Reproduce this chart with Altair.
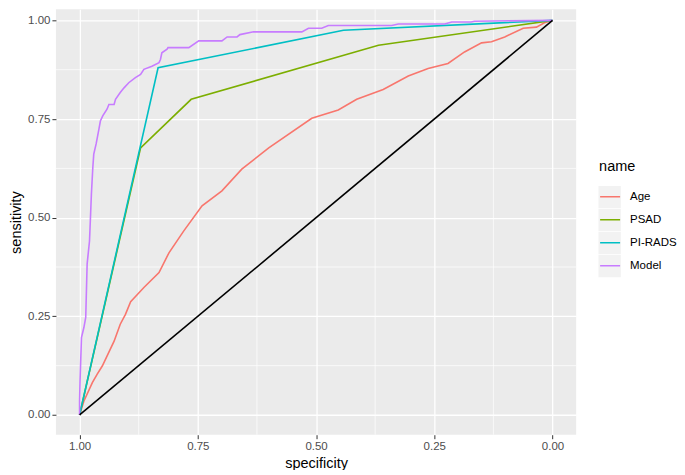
import altair as alt
import pandas as pd

names = ["Age", "PSAD", "PI-RADS", "Model"]
colors = ["#F8766D", "#7CAE00", "#00BFC4", "#C77CFF"]
key_ids = [1, 2, 3, 4]
key_fill = ["#F2F2F2", "#F2F2F2", "#F2F2F2", "#F2F2F2"]

age_spec = [1.0, 0.991, 0.973, 0.963, 0.952, 0.942, 0.927, 0.914, 0.903, 0.892, 0.864,
            0.832, 0.811, 0.780, 0.741, 0.699, 0.657, 0.600, 0.509, 0.453, 0.414, 0.358,
            0.305, 0.263, 0.221, 0.186, 0.150, 0.129, 0.101, 0.062, 0.034, 0.017, 0.0]
age_sens = [0.0, 0.035, 0.082, 0.103, 0.124, 0.149, 0.187, 0.230, 0.255, 0.287, 0.323,
            0.361, 0.411, 0.466, 0.530, 0.568, 0.623, 0.677, 0.752, 0.773, 0.800, 0.825,
            0.859, 0.878, 0.891, 0.920, 0.943, 0.946, 0.958, 0.980, 0.983, 0.994, 1.0]

psad_spec = [1.0, 0.871, 0.764, 0.368, 0.0]
psad_sens = [0.0, 0.677, 0.800, 0.937, 1.0]

pirads_spec = [1.0, 0.834, 0.442, 0.0]
pirads_sens = [0.0, 0.880, 0.975, 1.0]

model_spec = [1.0, 1.0, 0.999, 0.996, 0.991, 0.987, 0.984, 0.979, 0.977, 0.975, 0.972,
              0.970, 0.965, 0.959, 0.956, 0.951, 0.942, 0.938, 0.927, 0.924, 0.914, 0.906,
              0.896, 0.882, 0.871, 0.864, 0.847, 0.832, 0.829, 0.826, 0.815, 0.813, 0.769,
              0.748, 0.699, 0.688, 0.667, 0.661, 0.632, 0.530, 0.516, 0.488, 0.474, 0.340,
              0.326, 0.228, 0.213, 0.172, 0.165, 0.0]
model_sens = [0.0, 0.035, 0.086, 0.196, 0.221, 0.247, 0.383, 0.441, 0.500, 0.560, 0.627,
              0.661, 0.687, 0.725, 0.745, 0.758, 0.775, 0.787, 0.787, 0.800, 0.817, 0.829,
              0.842, 0.855, 0.863, 0.876, 0.884, 0.893, 0.901, 0.918, 0.927, 0.931, 0.931,
              0.948, 0.948, 0.958, 0.958, 0.964, 0.971, 0.971, 0.980, 0.980, 0.987, 0.987,
              0.991, 0.991, 0.996, 0.996, 0.998, 1.0]

diag_spec = [1.0, 0.0]
diag_sens = [0.0, 1.0]

major_ticks = [0.0, 0.25, 0.5, 0.75, 1.0]
minor_ticks = [0.125, 0.375, 0.625, 0.875]

rows = []
for nm, sp, se in [("Age", age_spec, age_sens), ("PSAD", psad_spec, psad_sens),
                   ("PI-RADS", pirads_spec, pirads_sens), ("Model", model_spec, model_sens)]:
    for i, (a, b) in enumerate(zip(sp, se)):
        rows.append({"name": nm, "specificity": a, "sensitivity": b, "idx": i})
df = pd.DataFrame(rows)
diag = pd.DataFrame({"specificity": diag_spec, "sensitivity": diag_sens})
minor = pd.DataFrame({"v": minor_ticks})
keys = pd.DataFrame({"key": key_ids})

FONT = "Liberation Sans"
xscale = alt.Scale(domain=[-0.05, 1.05], reverse=True, nice=False, zero=False)
yscale = alt.Scale(domain=[-0.05, 1.028], nice=False, zero=False)

xaxis = alt.Axis(values=major_ticks, format=".2f", title="specificity", grid=True,
                 gridColor="white", gridWidth=1.3, domain=False, tickColor="#333333",
                 tickSize=4, tickWidth=1, labelColor="#4D4D4D", labelFontSize=11.5,
                 labelFont=FONT, titleFont=FONT, titleFontSize=14.5, titleColor="black",
                 titleFontWeight="normal", labelPadding=2, titlePadding=4)
yaxis = alt.Axis(values=major_ticks, format=".2f", title="sensitivity", grid=True,
                 gridColor="white", gridWidth=1.3, domain=False, tickColor="#333333",
                 tickSize=4, tickWidth=1, labelColor="#4D4D4D", labelFontSize=11.5,
                 labelFont=FONT, titleFont=FONT, titleFontSize=14.5, titleColor="black",
                 titleFontWeight="normal", labelPadding=2, titlePadding=4)

LX, LY = 544, 151
ROW = 22.5

vminor = alt.Chart(minor).mark_rule(color="white", strokeWidth=0.7).encode(
    x=alt.X("v:Q", scale=xscale, axis=xaxis))
hminor = alt.Chart(minor).mark_rule(color="white", strokeWidth=0.7).encode(
    y=alt.Y("v:Q", scale=yscale, axis=yaxis))

# legend key backgrounds (grey squares), no marks drawn in the plot
keybg = alt.Chart(keys).mark_square().encode(
    fill=alt.Fill("key:O", scale=alt.Scale(domain=key_ids, range=key_fill),
                  legend=alt.Legend(title=None, orient="none", legendX=LX - 1, legendY=LY + 26,
                                    symbolType="square", symbolSize=ROW * ROW,
                                    symbolStrokeWidth=0, symbolOpacity=1, rowPadding=0,
                                    clipHeight=ROW, labelExpr="''", labelFontSize=1,
                                    labelOffset=0, zindex=0)),
).transform_filter("false")

lines = alt.Chart(df).mark_line(strokeWidth=1.6).encode(
    x=alt.X("specificity:Q", scale=xscale, axis=xaxis),
    y=alt.Y("sensitivity:Q", scale=yscale, axis=yaxis),
    color=alt.Color("name:N", scale=alt.Scale(domain=names, range=colors),
                    legend=alt.Legend(title="name", orient="none", legendX=LX, legendY=LY,
                                      symbolType="stroke", symbolSize=400,
                                      symbolStrokeWidth=1.6, rowPadding=0, clipHeight=ROW,
                                      titleFont=FONT, titleFontSize=14.5,
                                      titleFontWeight="normal", titleColor="black",
                                      titlePadding=11, labelFont=FONT, labelFontSize=11.5,
                                      labelColor="black", labelOffset=9, zindex=1)),
    order="idx:Q")

diagonal = alt.Chart(diag).mark_line(color="black", strokeWidth=1.6).encode(
    x=alt.X("specificity:Q", scale=xscale, axis=xaxis),
    y=alt.Y("sensitivity:Q", scale=yscale, axis=yaxis))

chart = alt.layer(vminor, hminor, keybg, lines, diagonal).properties(
    width=521, height=426, padding={"left": 0, "top": 0, "right": 0, "bottom": 0},
    view=alt.ViewBackground(fill="#EBEBEB", strokeWidth=0)
).resolve_scale(color="independent", fill="independent"
).configure(font=FONT).configure_view(fill="#EBEBEB", strokeWidth=0)

chart.save("out.html", embed_options={"renderer": "svg", "actions": False})
